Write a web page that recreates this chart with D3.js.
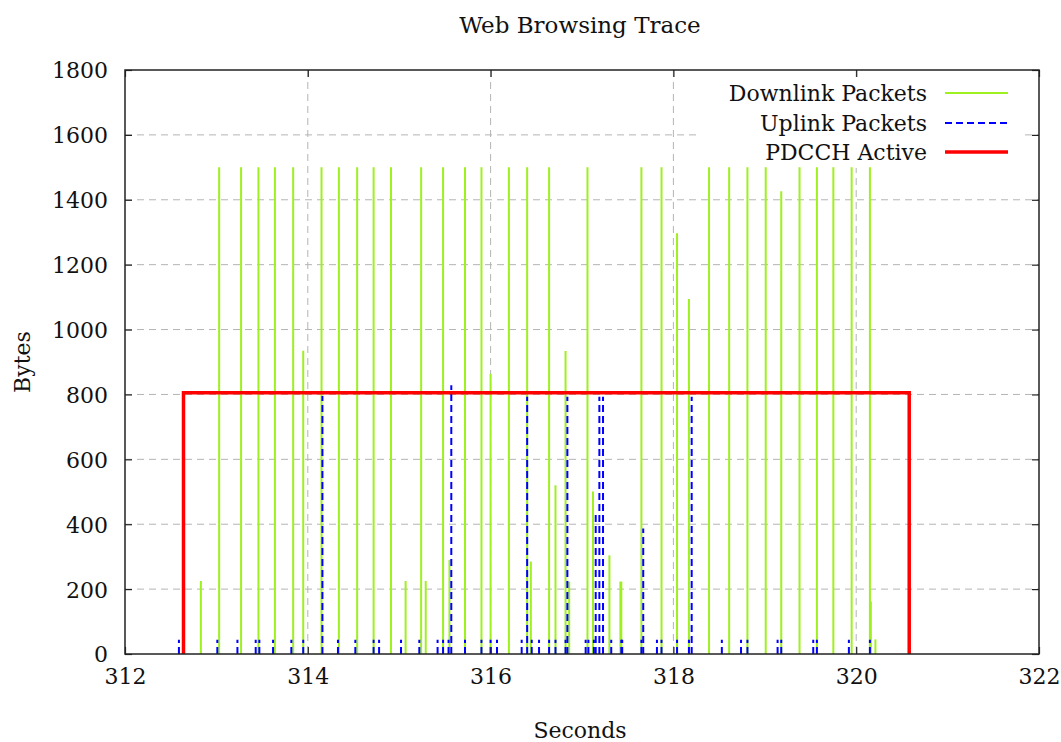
<!DOCTYPE html>
<html>
<head>
<meta charset="utf-8">
<script src="https://cdnjs.cloudflare.com/ajax/libs/d3/7.8.5/d3.min.js"></script>
<style>
  body { margin: 0; background: #fff; }
  text { font-family: "DejaVu Serif", serif; fill: #111; }
</style>
</head>
<body>
<div id="chart-area"></div>
<script>
var margin = { left: 125, right: 22, top: 70, bottom: 88 };
var width = 1061 - margin.left - margin.right,
    height = 742 - margin.top - margin.bottom;

// downlink packets (seconds, bytes)
var downTime = [312.83, 313.03, 313.27, 313.46, 313.64, 313.84, 313.95, 314.15, 314.34, 314.54,
  314.72, 314.91, 315.07, 315.24, 315.29, 315.48, 315.55, 315.72, 315.90, 316.00,
  316.20, 316.40, 316.44, 316.64, 316.71, 316.82, 316.86, 317.06, 317.12, 317.30,
  317.42, 317.43, 317.65, 317.87, 318.04, 318.17, 318.39, 318.61, 318.81, 319.01,
  319.18, 319.38, 319.57, 319.75, 319.95, 320.15, 320.16, 320.21];
var downBytes = [225, 1500, 1500, 1500, 1500, 1500, 935, 1500, 1500, 1500,
  1500, 1500, 225, 1500, 225, 1500, 290, 1500, 1500, 864,
  1500, 1500, 285, 1500, 520, 934, 223, 1500, 501, 304,
  223, 223, 1500, 1500, 1297, 1094, 1500, 1500, 1500, 1500,
  1426, 1500, 1500, 1500, 1500, 1500, 162, 45];

// uplink packets
var upTime = [312.59, 313.01, 313.23, 313.43, 313.47, 313.62, 313.82, 313.95, 314.16, 314.33,
  314.52, 314.72, 314.78, 315.02, 315.22, 315.42, 315.48, 315.54, 315.57, 315.72,
  315.90, 316.00, 316.07, 316.34, 316.40, 316.45, 316.53, 316.64, 316.71, 316.82,
  316.84, 317.04, 317.07, 317.13, 317.15, 317.19, 317.23, 317.32, 317.43, 317.44,
  317.65, 317.67, 317.82, 317.87, 318.04, 318.17, 318.20, 318.53, 318.74, 318.81,
  319.14, 319.18, 319.53, 319.57, 319.92, 320.15];
var upBytes = [44, 44, 44, 44, 44, 44, 44, 44, 795, 44,
  44, 44, 44, 44, 44, 44, 44, 44, 828, 44,
  44, 44, 44, 44, 793, 44, 44, 44, 44, 44,
  793, 44, 44, 44, 434, 793, 793, 44, 44, 44,
  44, 387, 44, 44, 44, 44, 793, 44, 44, 44,
  44, 44, 44, 44, 44, 44];

// PDCCH active step
var pdcchTime = [312.64, 312.64, 320.58, 320.58];
var pdcchVal = [0, 805, 805, 0];

var xTicks = [312, 314, 316, 318, 320, 322];
var yTicks = [0, 200, 400, 600, 800, 1000, 1200, 1400, 1600, 1800];

var svg = d3.select("#chart-area")
    .append("svg")
      .attr("width", 1061)
      .attr("height", 742);

var g = svg.append("g")
    .attr("transform", "translate(" + margin.left + ", " + margin.top + ")");

var x = d3.scaleLinear().domain([312, 322]).range([0, width]);
var y = d3.scaleLinear().domain([0, 1800]).range([height, 0]);

// grid
g.append("g").selectAll("line")
  .data(xTicks.slice(1, -1))
  .enter().append("line")
    .attr("x1", function(d) { return x(d); })
    .attr("x2", function(d) { return x(d); })
    .attr("y1", 0)
    .attr("y2", height)
    .attr("stroke", "#b4b4b4")
    .attr("stroke-width", 1)
    .attr("stroke-dasharray", "7,5");

g.append("g").selectAll("line")
  .data(yTicks.slice(1, -1))
  .enter().append("line")
    .attr("x1", 0)
    .attr("x2", width)
    .attr("y1", function(d) { return y(d); })
    .attr("y2", function(d) { return y(d); })
    .attr("stroke", "#b4b4b4")
    .attr("stroke-width", 1)
    .attr("stroke-dasharray", "7,5");

// legend background
var legX = 927;
g.append("rect")
  .attr("x", 700 - margin.left)
  .attr("y", 78 - margin.top)
  .attr("width", 325)
  .attr("height", 90)
  .attr("fill", "#fff");

// downlink impulses
g.append("g").selectAll("line")
  .data(downTime)
  .enter().append("line")
    .attr("x1", function(d) { return x(d); })
    .attr("x2", function(d) { return x(d); })
    .attr("y1", y(0))
    .attr("y2", function(d, i) { return y(downBytes[i]); })
    .attr("stroke", "#9ef01e")
    .attr("stroke-width", 2);

// uplink impulses
g.append("g").selectAll("line")
  .data(upTime)
  .enter().append("line")
    .attr("x1", function(d) { return x(d); })
    .attr("x2", function(d) { return x(d); })
    .attr("y1", y(0))
    .attr("y2", function(d, i) { return y(upBytes[i]); })
    .attr("stroke", "#0000ff")
    .attr("stroke-width", 2)
    .attr("stroke-dasharray", "7,4");

// pdcch
var line = d3.line()
  .x(function(d) { return x(d); })
  .y(function(d, i) { return y(pdcchVal[i]); });

g.append("path")
  .datum(pdcchTime)
  .attr("d", line)
  .attr("fill", "none")
  .attr("stroke", "#ff0000")
  .attr("stroke-width", 3.5);

// axes
var xAxisCall = d3.axisBottom(x).tickValues(xTicks).tickSize(-7).tickPadding(14).tickFormat(d3.format("d"));
var xTopCall = d3.axisTop(x).tickValues(xTicks).tickSize(-7).tickFormat("");
var yAxisCall = d3.axisLeft(y).tickValues(yTicks).tickSize(-7).tickPadding(17).tickFormat(d3.format("d"));
var yRightCall = d3.axisRight(y).tickValues(yTicks).tickSize(-7).tickFormat("");

g.append("g").attr("class", "x axis")
  .attr("transform", "translate(0, " + height + ")")
  .call(xAxisCall);
g.append("g").call(xTopCall);
g.append("g").attr("class", "y axis").call(yAxisCall);
g.append("g").attr("transform", "translate(" + width + ", 0)").call(yRightCall);

g.selectAll(".domain").remove();
g.selectAll(".tick line").attr("stroke", "#222").attr("stroke-width", 1.2);
g.selectAll(".tick text")
  .attr("font-family", "DejaVu Serif")
  .attr("font-size", "22px")
  .attr("fill", "#111");
g.selectAll(".y.axis .tick text").attr("dy", "0.36em");

g.append("rect")
  .attr("width", width)
  .attr("height", height)
  .attr("fill", "none")
  .attr("stroke", "#222")
  .attr("stroke-width", 1.5);

// legend
var legend = [
  { name: "Downlink Packets", color: "#9ef01e", dash: null, w: 2 },
  { name: "Uplink Packets", color: "#0000ff", dash: "7,4", w: 2 },
  { name: "PDCCH Active", color: "#ff0000", dash: null, w: 3.5 }
];
var legY = [93, 123, 152];
legend.forEach(function(d, i) {
  var yy = legY[i] - margin.top;
  g.append("text")
    .attr("x", legX - margin.left)
    .attr("y", yy)
    .attr("dy", "0.36em")
    .attr("text-anchor", "end")
    .attr("font-size", "22px")
    .text(d.name);
  g.append("line")
    .attr("x1", 945 - margin.left)
    .attr("x2", 1008 - margin.left)
    .attr("y1", yy)
    .attr("y2", yy)
    .attr("stroke", d.color)
    .attr("stroke-width", d.w)
    .attr("stroke-dasharray", d.dash);
});

// titles
svg.append("text")
  .attr("x", 580)
  .attr("y", 25)
  .attr("dy", "0.36em")
  .attr("text-anchor", "middle")
  .attr("font-size", "23px")
  .text("Web Browsing Trace");

svg.append("text")
  .attr("x", 580)
  .attr("y", 730)
  .attr("dy", "0.36em")
  .attr("text-anchor", "middle")
  .attr("font-size", "22px")
  .text("Seconds");

svg.append("text")
  .attr("transform", "translate(22, 362) rotate(-90)")
  .attr("dy", "0.36em")
  .attr("text-anchor", "middle")
  .attr("font-size", "22px")
  .text("Bytes");
</script>
</body>
</html>
